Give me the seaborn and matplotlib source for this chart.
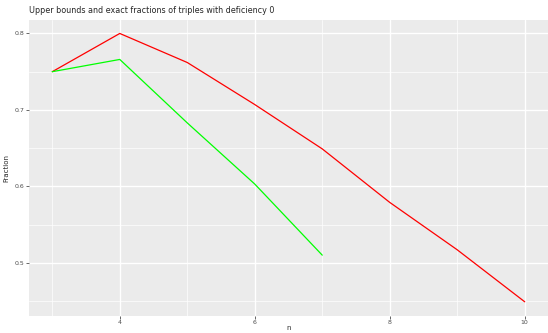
import numpy as np
import pandas as pd
import seaborn as sns
from matplotlib import pyplot as plt

# values
n_upper = [3, 4, 5, 6, 7, 8, 9, 10]
upper = [0.75, 0.80, 0.762, 0.707, 0.649, 0.579, 0.517, 0.449]
n_exact = [3, 4, 5, 6, 7]
exact = [0.75, 0.766, 0.683, 0.603, 0.510]

df = pd.concat([
    pd.DataFrame({"n": n_upper, "Fraction": upper, "kind": "upper"}),
    pd.DataFrame({"n": n_exact, "Fraction": exact, "kind": "exact"}),
])

sns.set_theme(style="darkgrid", rc={"axes.facecolor": "#EBEBEB",
                                    "grid.color": "white"})
plt.rcParams['font.family'] = ['DejaVu Sans']

fig = plt.figure(figsize=(5.48, 3.33), dpi=100)
# panel placed like the ggplot reference (left 29px, bottom 316px, right edge)
ax = fig.add_axes([29 / 548, 17 / 333, 519 / 548, 296 / 333])

sns.lineplot(data=df, x="n", y="Fraction", hue="kind",
             palette={"upper": "#FF0000", "exact": "#00FF00"},
             linewidth=0.9, legend=False, ax=ax, sort=False)

ax.set_xlim(2.655, 10.345)
ax.set_ylim(0.4304, 0.8176)
ax.set_xticks([4, 6, 8, 10])
ax.set_xticks([3, 5, 7, 9], minor=True)
ax.set_yticks([0.5, 0.6, 0.7, 0.8])
ax.set_yticks([0.45, 0.55, 0.65, 0.75], minor=True)
ax.grid(which="major", color="white", linewidth=1.0)
ax.grid(which="minor", color="white", linewidth=0.5)
for s in ax.spines.values():
    s.set_visible(False)

ax.tick_params(axis="both", which="major", labelsize=4.5, colors="#4D4D4D",
               length=2, width=0.6, pad=1, left=True, bottom=True)
ax.tick_params(axis="both", which="minor", length=0)
ax.set_xlabel("n", fontsize=5, labelpad=0)
ax.set_ylabel("Fraction", fontsize=5, labelpad=4)
ax.set_title("Upper bounds and exact fractions of triples with deficiency 0",
             fontsize=5.8, loc="left", pad=5)

fig.savefig("out.png", dpi=100, facecolor="white")
